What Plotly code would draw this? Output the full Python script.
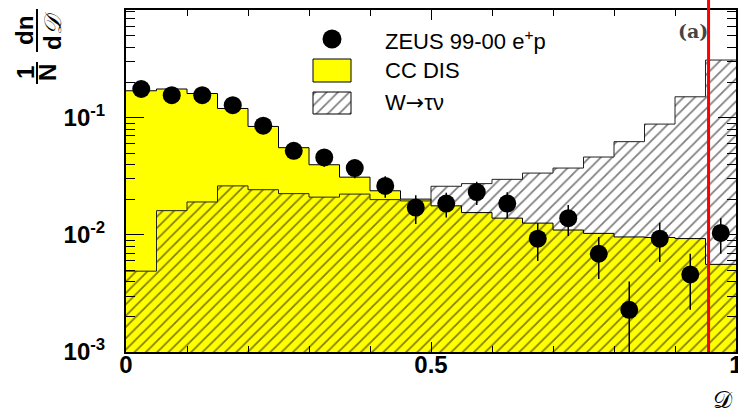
import plotly.graph_objects as go

# ---------------- data ----------------
bin_edges = [0.00, 0.05, 0.10, 0.15, 0.20, 0.25, 0.30, 0.35, 0.40, 0.45, 0.50,
             0.55, 0.60, 0.65, 0.70, 0.75, 0.80, 0.85, 0.90, 0.95, 1.00]
bin_centers = [0.025, 0.075, 0.125, 0.175, 0.225, 0.275, 0.325, 0.375, 0.425, 0.475,
               0.525, 0.575, 0.625, 0.675, 0.725, 0.775, 0.825, 0.875, 0.925, 0.975]
cc_dis = [0.170, 0.176, 0.161, 0.120, 0.0843, 0.0555, 0.0397, 0.0311, 0.0238, 0.0202,
          0.0177, 0.0155, 0.0139, 0.0126, 0.0110, 0.0103, 0.0096, 0.0095, 0.0093, 0.0056]
w_tau = [0.0049, 0.0161, 0.0191, 0.0262, 0.0243, 0.0225, 0.0210, 0.0223, 0.0200, 0.0195,
         0.0260, 0.0274, 0.0298, 0.0337, 0.0372, 0.0462, 0.0625, 0.0883, 0.151, 0.311]
zeus = [0.176, 0.156, 0.156, 0.128, 0.0855, 0.0522, 0.0458, 0.0372, 0.0262, 0.0171,
        0.0185, 0.0232, 0.0185, 0.00927, 0.0139, 0.0069, 0.00229, 0.00927, 0.00459, 0.0104]
zeus_err = [0.014, 0.013, 0.013, 0.012, 0.010, 0.008, 0.0076, 0.0068, 0.0055, 0.0047,
            0.0044, 0.0052, 0.0046, 0.0033, 0.0041, 0.0027, 0.0017, 0.0034, 0.0023, 0.0035]
cut_value = 0.955
x_tickvals = [0, 0.5, 1]
x_ticktext = ["0", "0.5", "1"]
y_tickvals = [1e-3, 1e-2, 1e-1]
y_ticktext = ["10<sup>-3</sup>", "10<sup>-2</sup>", "10<sup>-1</sup>"]
legend_labels = ["ZEUS 99-00 e<sup>+</sup>p", "CC DIS",
                 "W<span style='font-family:DejaVu Sans'>\u2192</span>\u03c4\u03bd"]

# ---------------- layout helpers ----------------
W, H = 738, 414
L, R, T, B = 126, 2, 10, 62
PW, PH = W - L - R, H - T - B


def px(xp):
    return (xp - L) / PW


def py(yp):
    return (H - B - yp) / PH


HATCH = dict(shape="/", fgcolor="black", size=8, solidity=0.22)

fig = go.Figure()

# CC DIS histogram (yellow)
fig.add_trace(go.Scatter(
    x=bin_edges, y=cc_dis + [cc_dis[-1]], mode="lines",
    line=dict(shape="hv", color="black", width=1),
    fill="tozeroy", fillcolor="#ffff00", showlegend=False, hoverinfo="skip"))

# W -> tau nu histogram (hatched)
fig.add_trace(go.Scatter(
    x=bin_edges, y=w_tau + [w_tau[-1]], mode="lines",
    line=dict(shape="hv", color="#222222", width=1),
    fill="tozeroy", fillcolor="rgba(0,0,0,0)",
    fillpattern=dict(bgcolor="rgba(0,0,0,0)", **HATCH),
    showlegend=False, hoverinfo="skip"))

# ZEUS data
fig.add_trace(go.Scatter(
    x=bin_centers, y=zeus, mode="markers",
    marker=dict(color="black", size=18),
    error_y=dict(type="data", array=zeus_err, color="black", thickness=1.5, width=0),
    showlegend=False))

# ---- manual legend on overlay axes (0..1 = plot area) ----
fig.add_trace(go.Scatter(
    x=[px(332)], y=[py(39)], mode="markers", xaxis="x2", yaxis="y2",
    marker=dict(color="black", size=19), showlegend=False, hoverinfo="skip"))
fig.add_trace(go.Scatter(
    x=[px(313), px(351), px(351), px(313), px(313)],
    y=[py(59), py(59), py(82), py(82), py(59)], mode="lines", xaxis="x2", yaxis="y2",
    line=dict(color="black", width=1), fill="toself", fillcolor="#ffff00",
    showlegend=False, hoverinfo="skip"))
fig.add_trace(go.Scatter(
    x=[px(313), px(351), px(351), px(313), px(313)],
    y=[py(92), py(92), py(114), py(114), py(92)], mode="lines", xaxis="x2", yaxis="y2",
    line=dict(color="black", width=1), fill="toself", fillcolor="white",
    fillpattern=dict(bgcolor="white", **HATCH),
    showlegend=False, hoverinfo="skip"))

leg_font = dict(family="Liberation Sans, Arial, sans-serif", size=22, color="black")
for lab, yp in zip(legend_labels, [40, 71, 103]):
    fig.add_annotation(x=px(383), y=py(yp), xref="paper", yref="paper", text=lab,
                       showarrow=False, xanchor="left", yanchor="middle", font=leg_font)

# (a) label
fig.add_annotation(x=px(693), y=py(31), xref="paper", yref="paper", text="<b>(a)</b>",
                   showarrow=False, xanchor="center", yanchor="middle",
                   font=dict(family="DejaVu Serif, Liberation Serif, serif", size=19, color="#444444"))

# red cut line
fig.add_shape(type="line", xref="x", yref="paper", x0=cut_value, x1=cut_value,
              y0=0, y1=1 + T / PH, line=dict(color="#ff0000", width=3), layer="above")

# y-axis title: (1/N) dn/dD
tfont = dict(family="Liberation Sans, Arial, sans-serif", size=24, color="black", weight="bold")
for txt, xp, yp in [("1", 25, 73), ("N", 47, 73), ("dn", 25, 31)]:
    fig.add_annotation(x=px(xp), y=py(yp), xref="paper", yref="paper", text=txt,
                       textangle=-90, showarrow=False, xanchor="center", yanchor="middle",
                       font=tfont)
fig.add_annotation(x=px(53), y=py(31), xref="paper", yref="paper",
                   text="d<span style='font-family:DejaVu Serif;font-weight:normal;font-style:italic'>\U0001D49F</span>",
                   textangle=-90, showarrow=False, xanchor="center", yanchor="middle", font=tfont)
fig.add_shape(type="line", xref="paper", yref="paper", x0=px(37), x1=px(37),
              y0=py(9), y1=py(52), line=dict(color="black", width=2))
fig.add_shape(type="line", xref="paper", yref="paper", x0=px(37), x1=px(37),
              y0=py(62), y1=py(84), line=dict(color="black", width=2))

# x-axis title
fig.add_annotation(x=px(723), y=py(400), xref="paper", yref="paper", text="\U0001D49F",
                   showarrow=False, xanchor="center", yanchor="middle",
                   font=dict(family="DejaVu Serif, serif", size=24, color="black"))

tick_font = dict(family="Liberation Sans, Arial, sans-serif", size=24, color="black", weight="bold")
fig.update_layout(
    width=W, height=H, margin=dict(l=L, r=R, t=T, b=B, autoexpand=False),
    paper_bgcolor="white", plot_bgcolor="white", showlegend=False,
    xaxis=dict(range=[0, 1], tickvals=x_tickvals, ticktext=x_ticktext,
               ticks="inside", ticklen=10, tickwidth=1, tickcolor="black",
               minor=dict(dtick=0.1, tick0=0, ticks="inside", ticklen=6, tickcolor="black"),
               showline=True, linecolor="black", linewidth=2, mirror="ticks",
               showgrid=False, zeroline=False, tickfont=tick_font, ticklabelstandoff=-10,
               ticklabeloverflow="allow", automargin=False),
    yaxis=dict(type="log", range=[-3, -0.08], tickvals=y_tickvals, ticktext=y_ticktext,
               ticks="inside", ticklen=18, tickwidth=1, tickcolor="black",
               minor=dict(dtick="D1", ticks="inside", ticklen=9, tickcolor="black"),
               showline=True, linecolor="black", linewidth=2, mirror="ticks",
               showgrid=False, zeroline=False, tickfont=tick_font, ticklabelstandoff=14,
               automargin=False),
    xaxis2=dict(range=[0, 1], overlaying="x", visible=False, fixedrange=True),
    yaxis2=dict(range=[0, 1], overlaying="y", visible=False, fixedrange=True),
)

fig.write_html("out.html")
